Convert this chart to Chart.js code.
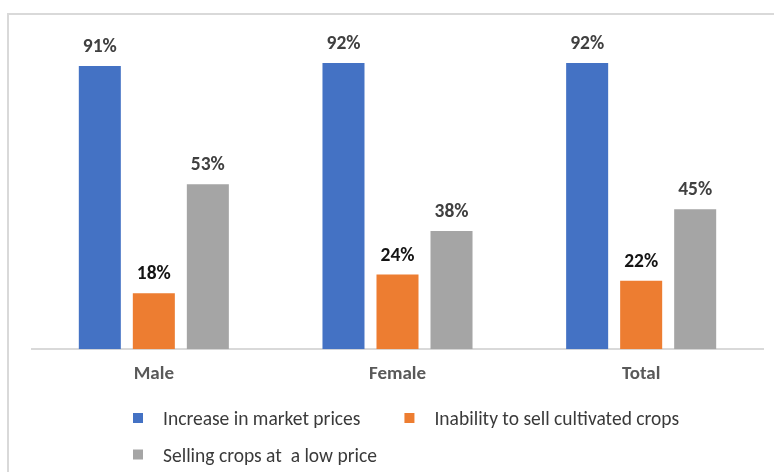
<!DOCTYPE html>
<html>
<head>
<meta charset="utf-8">
<script src="https://cdn.jsdelivr.net/npm/chart.js@4.4.1/dist/chart.umd.min.js"></script>
<style>
  html, body { margin: 0; padding: 0; background: #fff; }
  #wrap { position: relative; width: 774px; height: 472px; overflow: hidden; }
  #frame { position: absolute; left: 7px; top: 13px; width: 900px; height: 600px;
           border-left: 2px solid #d9d9d9; border-top: 2px solid #d9d9d9; }
  #myChart { position: absolute; left: 0; top: 0; }
</style>
</head>
<body>
<div id="wrap">
  <div id="frame"></div>
  <canvas id="myChart" width="774" height="472"></canvas>
</div>
<script>
// Data
const categories = ['Male', 'Female', 'Total'];
const seriesNames = ['Increase in market prices', 'Inability to sell cultivated crops', 'Selling crops at  a low price'];
const marketPrices = [91, 92, 92];
const unableToSell = [18, 24, 22];
const lowPrice = [53, 38, 45];

const FONT = "Carlito, 'Liberation Sans', sans-serif";

// Value labels above each bar
const valueLabels = {
    id: 'valueLabels',
    afterDatasetsDraw(chart) {
        const ctx = chart.ctx;
        ctx.save();
        ctx.font = 'bold 19.5px ' + FONT;
        ctx.textAlign = 'center';
        ctx.textBaseline = 'alphabetic';
        chart.data.datasets.forEach((ds, i) => {
            ctx.fillStyle = ds.labelColor;
            chart.getDatasetMeta(i).data.forEach((bar, j) => {
                ctx.fillText(ds.data[j] + '%', bar.x, bar.y - 14);
            });
        });
        ctx.restore();
    }
};

// Legend like the Excel one: left aligned, wraps to a second row
const bottomLegend = {
    id: 'bottomLegend',
    afterDraw(chart) {
        const ctx = chart.ctx;
        ctx.save();
        ctx.font = '19.5px ' + FONT;
        ctx.textBaseline = 'alphabetic';
        const startX = 133;
        const maxX = chart.chartArea.right;
        let x = startX;
        let y = 413;
        chart.data.datasets.forEach((ds) => {
            const w = 30 + ctx.measureText(ds.label).width;
            if (x !== startX && x + w > maxX) {
                x = startX;
                y += 36.5;
            }
            ctx.fillStyle = ds.backgroundColor;
            ctx.fillRect(x, y, 10, 10);
            ctx.fillStyle = '#3a3a3a';
            ctx.fillText(ds.label, x + 30, y + 12);
            x += w + 44;
        });
        ctx.restore();
    }
};

const ctx = document.getElementById('myChart').getContext('2d');
new Chart(ctx, {
    type: 'bar',
    data: {
        labels: categories,
        datasets: [{
            label: seriesNames[0],
            data: marketPrices,
            backgroundColor: '#4472C4',
            labelColor: '#404040'
        },
        {
            label: seriesNames[1],
            data: unableToSell,
            backgroundColor: '#ED7D31',
            labelColor: '#141414'
        },
        {
            label: seriesNames[2],
            data: lowPrice,
            backgroundColor: '#A5A5A5',
            labelColor: '#404040'
        }]
    },
    options: {
        responsive: false,
        animation: false,
        devicePixelRatio: 1,
        categoryPercentage: 0.665,
        barPercentage: 0.778,
        layout: {
            padding: { left: 32, right: 11, top: 38, bottom: 72 }
        },
        plugins: {
            legend: { display: false },
            tooltip: { enabled: false }
        },
        scales: {
            x: {
                grid: { display: false, drawTicks: false },
                border: { color: '#d9d9d9', width: 2 },
                ticks: {
                    color: '#595959',
                    padding: 14,
                    font: { family: FONT, size: 19, weight: 'bold' }
                }
            },
            y: {
                display: false,
                min: 0,
                max: 100
            }
        }
    },
    plugins: [valueLabels, bottomLegend]
});
</script>
</body>
</html>
